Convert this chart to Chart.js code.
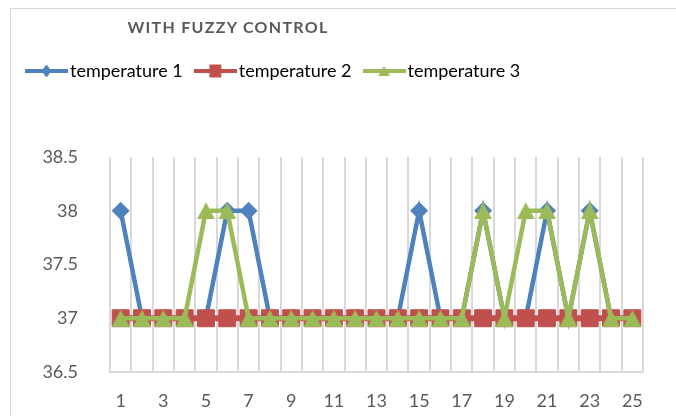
<!DOCTYPE html>
<html>
<head>
<meta charset="utf-8">
<script src="https://cdn.jsdelivr.net/npm/chart.js"></script>
<style>
  html, body { margin: 0; padding: 0; background: #fff; overflow: hidden; }
  #wrap { position: relative; width: 676px; height: 416px; overflow: hidden; }
  #frame { position: absolute; left: 10px; top: 8px; width: 700px; height: 500px; border: 1px solid #d9d9d9; }
  #title { position: absolute; left: 0; top: 17px; width: 456px; text-align: center;
           font: bold 16px Lato, sans-serif; letter-spacing: 1.3px; line-height: 20px; color: #595959; }
  canvas { position: absolute; left: 0; top: 0; }
</style>
</head>
<body>
<div id="wrap">
  <div id="frame"></div>
  <canvas id="chart" width="676" height="416"></canvas>
  <div id="title">WITH FUZZY CONTROL</div>
</div>
<script>
const categories = ["1", "2", "3", "4", "5", "6", "7", "8", "9", "10", "11", "12", "13",
  "14", "15", "16", "17", "18", "19", "20", "21", "22", "23", "24", "25"];
const temperature1 = [38, 37, 37, 37, 37, 38, 38, 37, 37, 37, 37, 37, 37,
  37, 38, 37, 37, 38, 37, 37, 38, 37, 38, 37, 37];
const temperature2 = [37, 37, 37, 37, 37, 37, 37, 37, 37, 37, 37, 37, 37,
  37, 37, 37, 37, 37, 37, 37, 37, 37, 37, 37, 37];
const temperature3 = [37, 37, 37, 37, 38, 38, 37, 37, 37, 37, 37, 37, 37,
  37, 37, 37, 37, 38, 37, 38, 38, 37, 38, 37, 37];
const seriesNames = ["temperature 1", "temperature 2", "temperature 3"];
const yMin = 36.5;
const yMax = 38.5;
const yStep = 0.5;

const BLUE = "#4f81bd", RED = "#c0504d", GREEN = "#9bbb59", TEXT = "#595959";
const FONT = "Lato";

// Excel style triangle marker (centered box, not centroid)
function triangleMarker(color, w, h) {
  const c = document.createElement("canvas");
  c.width = w; c.height = h;
  const g = c.getContext("2d");
  g.fillStyle = color;
  g.beginPath();
  g.moveTo(w / 2, 0);
  g.lineTo(w, h);
  g.lineTo(0, h);
  g.closePath();
  g.fill();
  return c;
}

// legend icon: line with marker in the middle
function legendIcon(color, shape) {
  const c = document.createElement("canvas");
  c.width = 43; c.height = 18;
  const g = c.getContext("2d");
  g.strokeStyle = color;
  g.fillStyle = color;
  g.lineWidth = 4;
  g.beginPath();
  g.moveTo(0, 9); g.lineTo(43, 9);
  g.stroke();
  g.beginPath();
  if (shape === "diamond") {
    g.moveTo(21.5, 2.5); g.lineTo(26.5, 9); g.lineTo(21.5, 15.5); g.lineTo(16.5, 9);
  } else if (shape === "square") {
    g.rect(15.5, 2.5, 12, 13);
  } else {
    g.moveTo(21.5, 4); g.lineTo(27.5, 14); g.lineTo(15.5, 14);
  }
  g.closePath();
  g.fill();
  return c;
}

const icons = [legendIcon(BLUE, "diamond"), legendIcon(RED, "square"), legendIcon(GREEN, "triangle")];

new Chart(document.getElementById("chart"), {
  type: "line",
  data: {
    labels: categories,
    datasets: [
      {
        label: seriesNames[0],
        data: temperature1,
        borderColor: BLUE,
        backgroundColor: BLUE,
        borderWidth: 4.5,
        pointStyle: "rectRot",
        pointRadius: 8.5,
        pointBorderWidth: 1,
        pointBorderColor: BLUE,
        pointBackgroundColor: BLUE,
        order: 3,
      },
      {
        label: seriesNames[1],
        data: temperature2,
        borderColor: RED,
        backgroundColor: RED,
        borderWidth: 6,
        pointStyle: "rect",
        pointRadius: 12,
        pointBorderWidth: 1,
        pointBorderColor: RED,
        pointBackgroundColor: RED,
        order: 2,
      },
      {
        label: seriesNames[2],
        data: temperature3,
        borderColor: GREEN,
        backgroundColor: GREEN,
        borderWidth: 4.5,
        pointStyle: triangleMarker(GREEN, 18, 17),
        pointRadius: 9,
        order: 1,
      },
    ],
  },
  options: {
    responsive: false,
    animation: false,
    layout: { padding: { top: 44, left: 14, right: 33, bottom: 0 } },
    plugins: {
      tooltip: { enabled: false },
      legend: {
        position: "top",
        align: "start",
        labels: {
          usePointStyle: true,
          pointStyleWidth: 29,
          padding: 18,
          color: TEXT,
          font: { family: FONT, size: 18 },
          generateLabels: (chart) =>
            chart.data.datasets.map((ds, i) => ({
              text: ds.label,
              fillStyle: ds.borderColor,
              strokeStyle: ds.borderColor,
              lineWidth: 0,
              pointStyle: icons[i],
              hidden: false,
              datasetIndex: i,
            })),
        },
      },
      // empty subtitle used as a gap between legend and plot
      subtitle: {
        display: true,
        text: "",
        weight: 500,
        font: { size: 1, lineHeight: 1 },
        padding: { top: 66, bottom: 0 },
      },
    },
    scales: {
      x: {
        offset: true,
        grid: { display: true, offset: true, color: "#d9d9d9", lineWidth: 2, drawTicks: false },
        border: { display: true, color: "#d9d9d9", width: 2 },
        ticks: {
          autoSkip: false,
          maxRotation: 0,
          padding: 18,
          color: TEXT,
          font: { family: FONT, size: 18 },
          callback: (v, i) => (i % 2 === 0 ? categories[i] : ""),
        },
        afterFit: (scale) => { scale.height = 44; },
      },
      y: {
        min: yMin,
        max: yMax,
        grid: { display: false },
        border: { display: false },
        ticks: {
          stepSize: yStep,
          padding: 24,
          color: TEXT,
          font: { family: FONT, size: 18 },
          callback: (v) => v.toString(),
        },
        afterFit: (scale) => { scale.width = 96; },
      },
    },
  },
});
</script>
</body>
</html>
